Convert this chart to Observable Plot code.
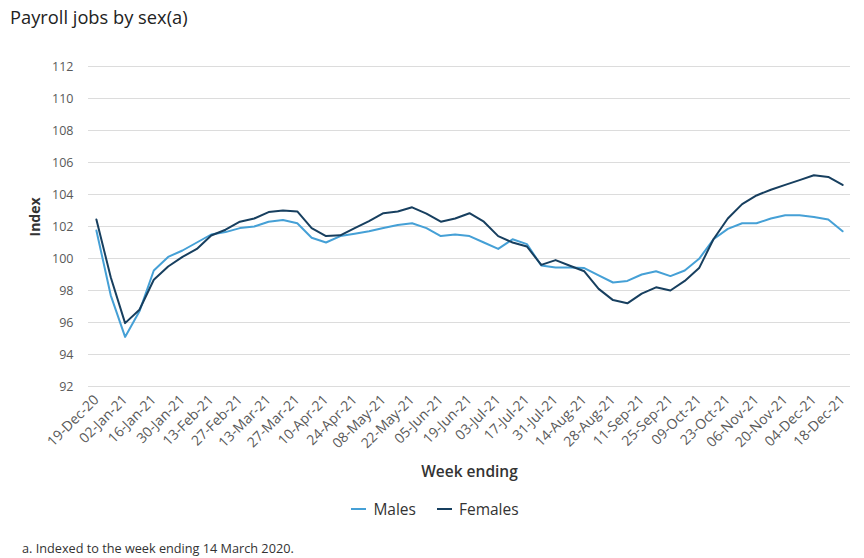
<!DOCTYPE html>
<html>
<head>
<meta charset="utf-8">
<script src="https://cdn.jsdelivr.net/npm/d3@7"></script>
<script src="https://cdn.jsdelivr.net/npm/@observablehq/plot@0.6"></script>
<style>
  html, body { margin: 0; padding: 0; background: #fff; }
  body { width: 864px; height: 558px; position: relative; overflow: hidden; font-family: "Open Sans", "Noto Sans", sans-serif; }
  #title { position: absolute; left: 10px; top: 4px; font-size: 18.3px; font-weight: 500; color: #222; }
  #chart { position: absolute; left: 0; top: 40px; }
  #legend { position: absolute; left: 0; width: 864px; top: 498px; display: flex; justify-content: center; gap: 21px; font-size: 15.5px; color: #333; margin-left: 3px; }
  #legend .item { display: flex; align-items: center; gap: 7px; }
  #legend .sw { width: 15px; height: 0; border-top: 2.5px solid; }
  #note { position: absolute; left: 22px; top: 539px; font-size: 12.7px; color: #333; }
</style>
</head>
<body>
<div id="title"></div>
<div id="chart"></div>
<div id="legend"></div>
<div id="note"></div>
<script>
const titleText = "Payroll jobs by sex(a)";
const noteText = "a. Indexed to the week ending 14 March 2020.";
const xLabel = "Week ending";
const yLabel = "Index";
const seriesNames = ["Males", "Females"];
const seriesColors = ["#45a0d6", "#173f5f"];

const weeks = ["19-Dec-20","26-Dec-20","02-Jan-21","09-Jan-21","16-Jan-21","23-Jan-21","30-Jan-21","06-Feb-21","13-Feb-21","20-Feb-21","27-Feb-21","06-Mar-21","13-Mar-21","20-Mar-21","27-Mar-21","03-Apr-21","10-Apr-21","17-Apr-21","24-Apr-21","01-May-21","08-May-21","15-May-21","22-May-21","29-May-21","05-Jun-21","12-Jun-21","19-Jun-21","26-Jun-21","03-Jul-21","10-Jul-21","17-Jul-21","24-Jul-21","31-Jul-21","07-Aug-21","14-Aug-21","21-Aug-21","28-Aug-21","04-Sep-21","11-Sep-21","18-Sep-21","25-Sep-21","02-Oct-21","09-Oct-21","16-Oct-21","23-Oct-21","30-Oct-21","06-Nov-21","13-Nov-21","20-Nov-21","27-Nov-21","04-Dec-21","11-Dec-21","18-Dec-21"];

const males = [101.75,97.7,95.1,96.7,99.25,100.1,100.5,101.0,101.5,101.65,101.9,102.0,102.3,102.4,102.2,101.3,101.0,101.4,101.55,101.7,101.9,102.1,102.2,101.9,101.4,101.5,101.4,101.0,100.6,101.2,100.9,99.56,99.44,99.44,99.4,98.94,98.5,98.6,99.0,99.2,98.9,99.25,99.98,101.2,101.85,102.2,102.2,102.5,102.7,102.7,102.6,102.44,101.7];

const females = [102.44,98.83,95.96,96.8,98.67,99.5,100.1,100.6,101.44,101.8,102.3,102.5,102.9,103.0,102.94,101.9,101.4,101.45,101.9,102.33,102.83,102.94,103.2,102.8,102.3,102.5,102.83,102.3,101.4,101.0,100.75,99.6,99.9,99.55,99.2,98.1,97.4,97.2,97.8,98.2,98.0,98.6,99.4,101.2,102.5,103.4,103.94,104.3,104.6,104.9,105.2,105.1,104.6];

const yTicks = [92,94,96,98,100,102,104,106,108,110,112];
const xTicks = weeks.filter((d, i) => i % 2 === 0);

const data = [];
weeks.forEach((w, i) => {
  data.push({week: w, value: males[i], series: seriesNames[0]});
});
weeks.forEach((w, i) => {
  data.push({week: w, value: females[i], series: seriesNames[1]});
});

document.getElementById("title").textContent = titleText;
document.getElementById("note").textContent = noteText;

const chart = Plot.plot({
  width: 864,
  height: 450,
  marginTop: 26,
  marginBottom: 104,
  marginLeft: 88,
  marginRight: 14,
  style: {fontFamily: "'Open Sans', 'Noto Sans', sans-serif", fontSize: "12px", color: "#595959", background: "#fff"},
  x: {type: "point", domain: weeks, padding: 0.55, round: false},
  y: {domain: [92, 112]},
  color: {domain: seriesNames, range: seriesColors},
  marks: [
    Plot.gridY(yTicks, {stroke: "#dcdcdc", strokeOpacity: 1, strokeWidth: 1}),
    Plot.axisY(yTicks, {tickSize: 0, tickPadding: 15, label: null, fill: "#595959", fontSize: 12.5}),
    Plot.axisX(xTicks, {tickSize: 0, tickPadding: 11, tickRotate: -45, label: null, fill: "#595959", fontSize: 14}),
    Plot.line(data, {x: "week", y: "value", z: "series", stroke: "series", strokeWidth: 2, curve: "linear"}),
    Plot.text([xLabel], {frameAnchor: "bottom", dy: 90, fontSize: 15.5, fontWeight: 600, fill: "#333"}),
    Plot.text([yLabel], {frameAnchor: "left", dx: -53, dy: 10, rotate: -90, fontSize: 14, fontWeight: 700, fill: "#333"})
  ]
});
document.getElementById("chart").appendChild(chart);

const legend = document.getElementById("legend");
seriesNames.forEach((name, i) => {
  const item = document.createElement("div");
  item.className = "item";
  const sw = document.createElement("span");
  sw.className = "sw";
  sw.style.borderColor = seriesColors[i];
  const lab = document.createElement("span");
  lab.textContent = name;
  item.appendChild(sw);
  item.appendChild(lab);
  legend.appendChild(item);
});
</script>
</body>
</html>
